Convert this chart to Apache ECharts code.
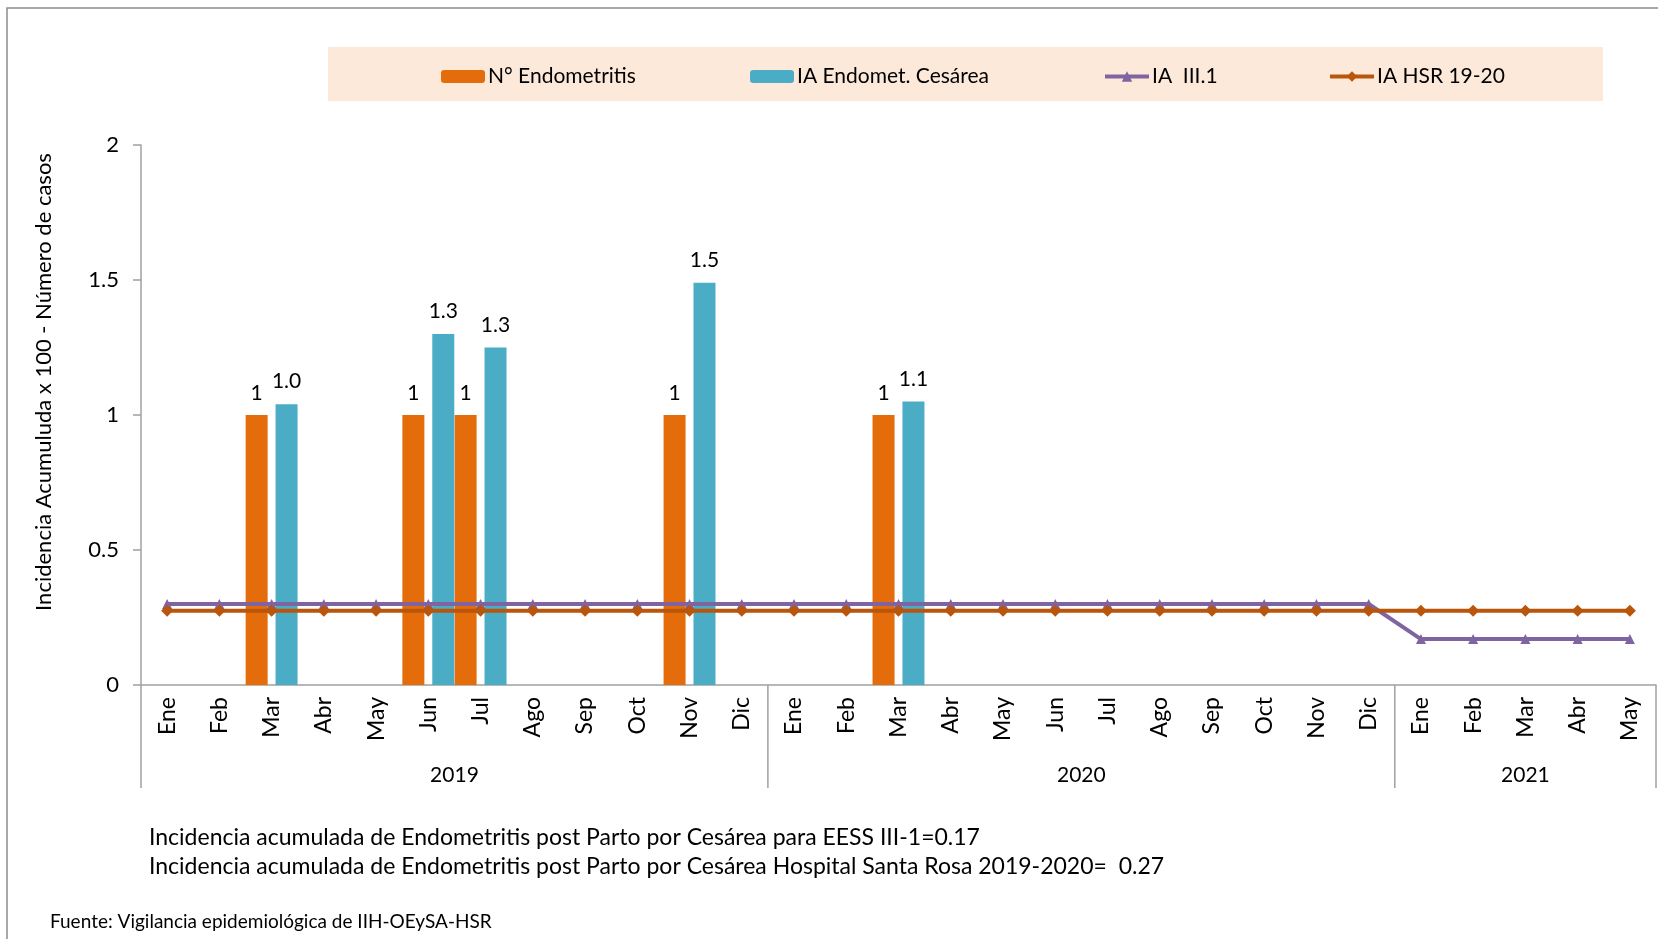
<!DOCTYPE html>
<html><head><meta charset="utf-8">
<script src="https://cdn.jsdelivr.net/npm/echarts@6/dist/echarts.min.js"></script>
<style>html,body{margin:0;padding:0;background:#fff}#c{width:1658px;height:939px}</style>
</head><body><div id="c"></div>
<script>
const monthNames = ['Ene','Feb','Mar','Abr','May','Jun','Jul','Ago','Sep','Oct','Nov','Dic'];
const years = ['2019','2020','2021'];
const monthsPerYear = [12,12,5];
const categories = [];
years.forEach((y,k)=>{ for(let m=0;m<monthsPerYear[k];m++) categories.push(monthNames[m]+'|'+y); });

const nEndometritis = [null,null,1,null,null,1,1,null,null,null,1,null,
                       null,null,1,null,null,null,null,null,null,null,null,null,
                       null,null,null,null,null];
const iaCesarea     = [null,null,1.04,null,null,1.30,1.25,null,null,null,1.49,null,
                       null,null,1.05,null,null,null,null,null,null,null,null,null,
                       null,null,null,null,null];
const iaIII1        = [0.30,0.30,0.30,0.30,0.30,0.30,0.30,0.30,0.30,0.30,0.30,0.30,
                       0.30,0.30,0.30,0.30,0.30,0.30,0.30,0.30,0.30,0.30,0.30,0.30,
                       0.17,0.17,0.17,0.17,0.17];
const iaHSR         = [0.275,0.275,0.275,0.275,0.275,0.275,0.275,0.275,0.275,0.275,0.275,0.275,
                       0.275,0.275,0.275,0.275,0.275,0.275,0.275,0.275,0.275,0.275,0.275,0.275,
                       0.275,0.275,0.275,0.275,0.275];
const seriesNames = ['N° Endometritis','IA Endomet. Cesárea','IA  III.1','IA HSR 19-20'];
const yTitle = 'Incidencia Acumuluda x 100 - Número de casos';
const note1 = 'Incidencia acumulada de Endometritis post Parto por Cesárea para EESS III-1=0.17';
const note2 = 'Incidencia acumulada de Endometritis post Parto por Cesárea Hospital Santa Rosa 2019-2020=  0.27';
const source = 'Fuente: Vigilancia epidemiológica de IIH-OEySA-HSR';

const FONT = "Lato, 'Liberation Sans', sans-serif";
const C_ORANGE = '#E46C0A', C_CYAN = '#4BACC6', C_PURPLE = '#8064A2', C_DORANGE = '#B9560B';

const chart = echarts.init(document.getElementById('c'));
const legendBase = {top: 66, padding: 0, itemWidth: 44, itemHeight: 13, z: 5,
  lineStyle:{width:4},
  textStyle:{fontFamily: FONT, fontSize: 21, color:'#000', padding:[0,0,0,-2]}};
const option = {
  animation:false,
  grid:{left:141, right:2, top:145, bottom:254},
  legend:[
    Object.assign({left:441, data:[seriesNames[0]]}, legendBase),
    Object.assign({left:750, data:[seriesNames[1]]}, legendBase),
    Object.assign({left:1103, data:[seriesNames[2]]}, legendBase),
    Object.assign({left:1328, data:[seriesNames[3]]}, legendBase)
  ],
  xAxis:{type:'category', data:categories, boundaryGap:true,
    axisLine:{lineStyle:{color:'#A0A0A0', width:1.5}},
    axisTick:{show:false},
    axisLabel:{rotate:90, margin:12, interval:0, fontFamily:FONT, fontSize:23, color:'#000',
      formatter:v=>v.split('|')[0]}},
  yAxis:{type:'value', min:0, max:2, interval:0.5,
    splitLine:{show:false},
    axisLine:{show:true, lineStyle:{color:'#A0A0A0', width:1.5}},
    axisTick:{show:true, length:8, lineStyle:{color:'#A0A0A0', width:1.5}},
    axisLabel:{margin:22, fontFamily:FONT, fontSize:22, color:'#000'}},
  series:[
    {name:seriesNames[0], type:'bar', data:nEndometritis, barWidth:22, barGap:'36%',
      itemStyle:{color:C_ORANGE},
      label:{show:true, position:'top', distance:11, fontFamily:FONT, fontSize:21, color:'#000'}},
    {name:seriesNames[1], type:'bar', data:iaCesarea, barWidth:22, barGap:'36%',
      itemStyle:{color:C_CYAN},
      label:{show:true, position:'top', distance:12, fontFamily:FONT, fontSize:21, color:'#000',
        formatter:p=>p.value.toFixed(1)}},
    {name:seriesNames[2], type:'line', data:iaIII1, z:4, symbol:'triangle', symbolSize:10,
      lineStyle:{color:C_PURPLE, width:4}, itemStyle:{color:C_PURPLE}},
    {name:seriesNames[3], type:'line', data:iaHSR, z:5, symbol:'diamond', symbolSize:12,
      lineStyle:{color:C_DORANGE, width:4}, itemStyle:{color:C_DORANGE}}
  ],
  graphic:[
    {type:'rect', z:-10, shape:{x:7, y:8, width:1700, height:1000}, style:{fill:'none', stroke:'#8C8C8C', lineWidth:1.5}},
    {type:'rect', z:0, shape:{x:328, y:47, width:1275, height:54}, style:{fill:'#FCE9DA'}},
    {type:'text', x:44, y:382, rotation:Math.PI/2, style:{text:yTitle, fontFamily:FONT, fontSize:22, fill:'#000', align:'center', verticalAlign:'middle'}},
    {type:'text', x:149, y:838, style:{text:note1, fontFamily:FONT, fontSize:23, fill:'#000', verticalAlign:'middle'}},
    {type:'text', x:149, y:867, style:{text:note2, fontFamily:FONT, fontSize:23, fill:'#000', verticalAlign:'middle'}},
    {type:'text', x:50, y:922, style:{text:source, fontFamily:FONT, fontSize:19, fill:'#000', verticalAlign:'middle'}}
  ]
};
chart.setOption(option);

// year group separators and labels, positioned through the category axis scale
const px = i => chart.convertToPixel({xAxisIndex:0}, i);
const band = px(1) - px(0);
const yBase = chart.convertToPixel({yAxisIndex:0}, 0);
const extra = [];
let start = 0;
const bounds = [px(0) - band/2];
years.forEach((y,k)=>{
  const end = start + monthsPerYear[k];
  const left = px(start) - band/2, right = px(end-1) + band/2;
  bounds.push(right);
  extra.push({type:'text', x:(left+right)/2, y:yBase+90, style:{text:y, fontFamily:FONT, fontSize:21, fill:'#000', align:'center', verticalAlign:'middle'}});
  start = end;
});
bounds.forEach(b=>extra.push({type:'line', shape:{x1:b, y1:yBase, x2:b, y2:yBase+103}, style:{stroke:'#A0A0A0', lineWidth:1.5}}));
chart.setOption({graphic: option.graphic.concat(extra)});
</script></body></html>
